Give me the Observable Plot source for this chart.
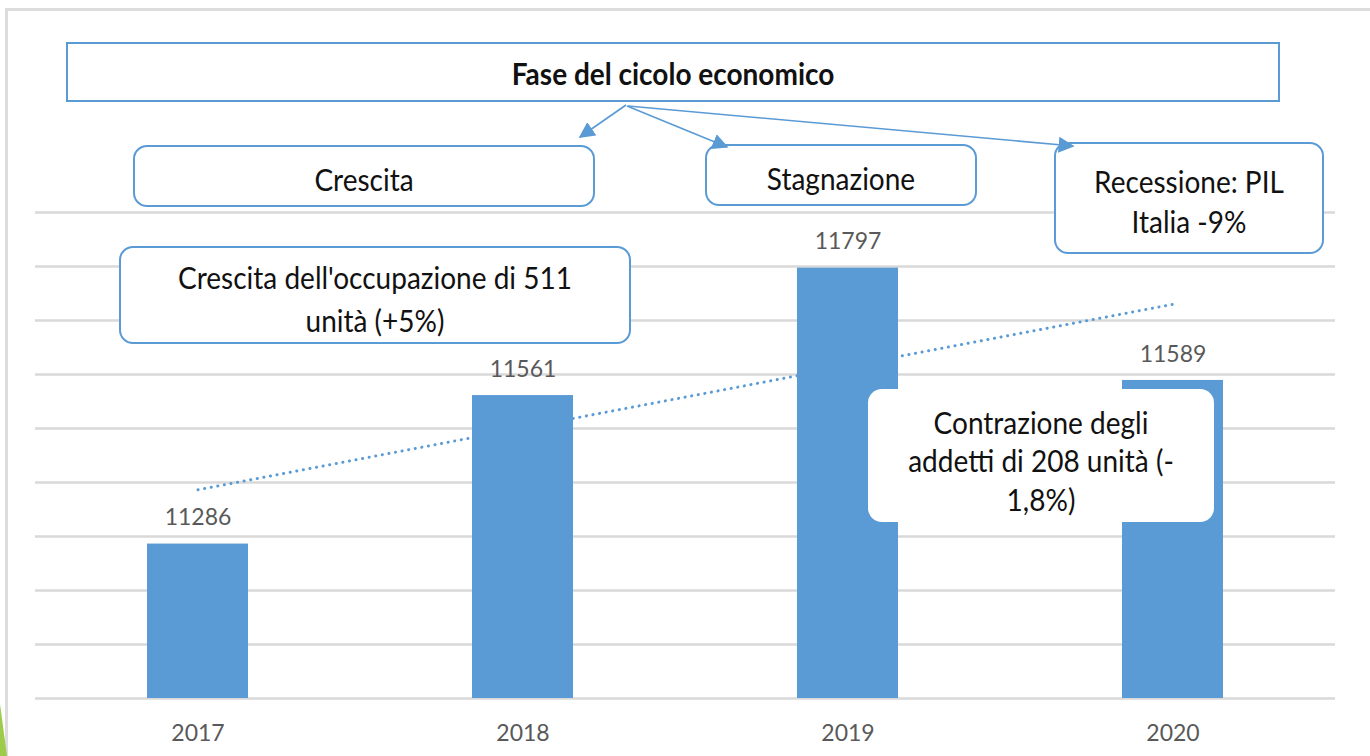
<!DOCTYPE html>
<html><head><meta charset="utf-8">
<script src="https://cdn.jsdelivr.net/npm/d3@7"></script>
<script src="https://cdn.jsdelivr.net/npm/@observablehq/plot@0.6"></script>
<style>
body{margin:0;background:#fff;font-family:Lato,sans-serif}
#wrap{position:relative;width:1370px;height:756px;overflow:hidden;background:#fff}
#chart{position:absolute;left:0;top:0}
#frame{position:absolute;left:5px;top:8px;width:1400px;height:800px;border-top:3px solid #dcdcdc;border-left:3px solid #dcdcdc;box-sizing:border-box}
.box{position:absolute;box-sizing:border-box;border:2px solid #5b9bd5;background:#fff;border-radius:14px;display:flex;align-items:center;justify-content:center;text-align:center;font-size:28px;color:#111;line-height:1.42;padding-top:7px}
.box span{display:inline-block;transform:scaleY(1.1)}
#overlay{position:absolute;left:0;top:0;pointer-events:none}
</style></head>
<body>
<div id="wrap">
  <div id="frame"></div>
  <div id="chart"></div>
</div>
<script>
// ---- data ----
const years = ["2017", "2018", "2019", "2020"];
const values = [11286, 11561, 11797, 11589];
const gridTicks = [11000, 11100, 11200, 11300, 11400, 11500, 11600, 11700, 11800, 11900];

const titleText = "Fase del cicolo economico";
const phaseTexts = ["Crescita", "Stagnazione", "Recessione: PIL<br>Italia -9%"];
const noteTexts = ["Crescita dell'occupazione di 511<br>unità (+5%)", "Contrazione degli<br>addetti di 208 unità (-<br>1,8%)"];

const data = years.map((year, i) => ({year, value: values[i]}));

const blue = "#5b9bd5";

const chart = Plot.plot({
  width: 1370,
  height: 756,
  marginTop: 212,
  marginBottom: 58,
  marginLeft: 35,
  marginRight: 35,
  style: {fontFamily: "Lato, sans-serif", fontSize: "23px", background: "transparent"},
  x: {domain: years, paddingInner: 0.69, paddingOuter: 0.345, label: null},
  y: {domain: [gridTicks[0], gridTicks[gridTicks.length - 1]], axis: null},
  marks: [
    Plot.ruleY(gridTicks, {stroke: "#d9d9d9", strokeWidth: 2.5}),
    Plot.linearRegressionY(data, {x: "year", y: "value", ci: 0, stroke: blue, strokeWidth: 3, strokeDasharray: "0.1 6.6", strokeLinecap: "round"}),
    Plot.barY(data, {x: "year", y1: gridTicks[0], y2: "value", fill: blue}),
    Plot.text(data, {x: "year", y: "value", text: d => String(d.value), dy: -26, fill: "#595959"}),
    Plot.axisX({tickSize: 0, tickPadding: 26, color: "#595959", label: null})
  ]
});
document.getElementById("chart").appendChild(chart);

// ---- annotation layer ----
const wrap = document.getElementById("wrap");
function addBox(html, left, top, w, h, extra) {
  const d = document.createElement("div");
  d.className = "box";
  d.style.left = left + "px"; d.style.top = top + "px";
  d.style.width = w + "px"; d.style.height = h + "px";
  if (extra) Object.assign(d.style, extra);
  d.innerHTML = "<span>" + html + "</span>";
  wrap.appendChild(d);
  return d;
}
addBox(titleText, 66, 42, 1214, 60, {borderRadius: "0", fontWeight: "700", fontSize: "28px", paddingTop: "4px"});
addBox(phaseTexts[0], 133, 145, 462, 62);
addBox(phaseTexts[1], 705, 144, 272, 62);
addBox(phaseTexts[2], 1054, 142, 270, 112, {lineHeight: "1.3"});
addBox(noteTexts[0], 119, 246, 512, 98, {lineHeight: "1.38"});
addBox(noteTexts[1], 868, 389, 346, 133, {border: "none", lineHeight: "1.25", paddingTop: "10px"});

const ns = "http://www.w3.org/2000/svg";
const svg = document.createElementNS(ns, "svg");
svg.setAttribute("id", "overlay");
svg.setAttribute("width", 1370);
svg.setAttribute("height", 756);
svg.innerHTML = `
<defs>
<marker id="ah2" viewBox="0 0 10 10" refX="9" refY="5" markerWidth="10" markerHeight="10" orient="auto" markerUnits="strokeWidth"><path d="M0,0L10,5L0,10z" fill="${blue}"/></marker></defs>
<g stroke="${blue}" stroke-width="1.6" fill="none">
<line x1="626" y1="105" x2="580" y2="137" marker-end="url(#ah2)"/>
<line x1="627" y1="106" x2="727" y2="147" marker-end="url(#ah2)"/>
<line x1="628" y1="106" x2="1073" y2="146" marker-end="url(#ah2)"/>
</g>
<polygon points="0,704 7,756 0,756" fill="#9dcb4a"/>`;
wrap.appendChild(svg);
</script>
</body></html>
